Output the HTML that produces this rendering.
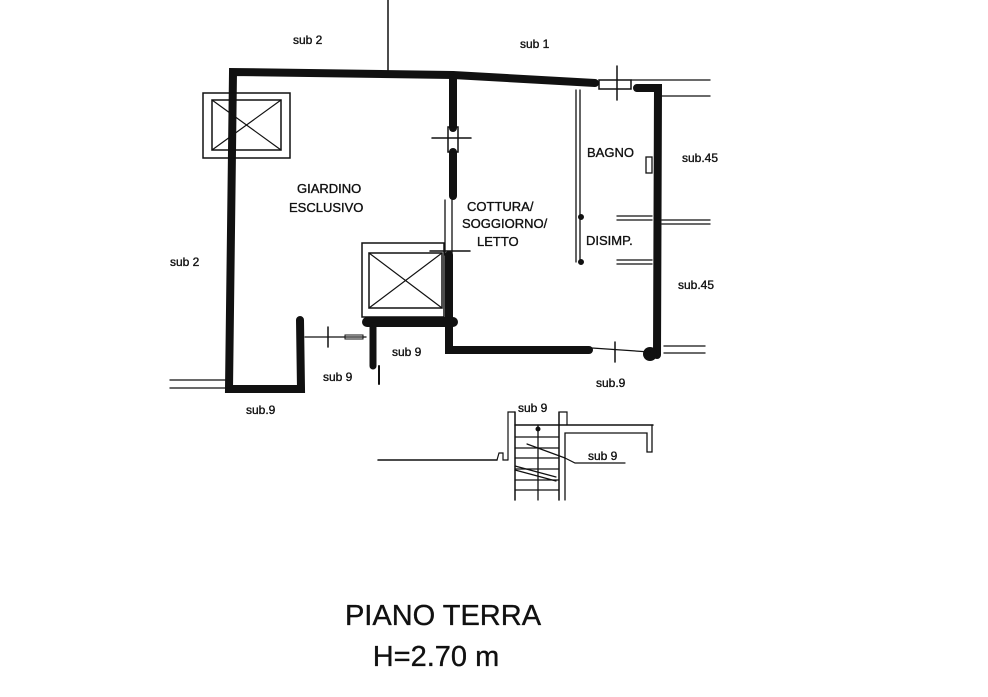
<!DOCTYPE html>
<html><head><meta charset="utf-8"><style>
html,body{margin:0;padding:0;background:#fff;}
svg{display:block}
text{font-family:"Liberation Sans",sans-serif;fill:#111}
.l{stroke:#111;stroke-width:0.35}
</style></head><body>
<svg width="988" height="697" viewBox="0 0 988 697" xmlns="http://www.w3.org/2000/svg">
<g stroke="#111" fill="none" stroke-linecap="round">
<line x1="388" y1="0" x2="388" y2="72" stroke-width="1.5"/>
<polyline points="300,320 301,389 229,389 233,72 453,75" stroke-width="8"/>
<polyline points="453,75 595,83" stroke-width="8"/>
<polyline points="453,78 453,128" stroke-width="8"/>
<polyline points="453,152 453,196" stroke-width="8"/>
<polyline points="449,255 449,350 589,350" stroke-width="8"/>
<polyline points="637,88 658,88 657,355" stroke-width="8"/>
<circle cx="650" cy="354" r="7" fill="#111" stroke="none"/>
<polyline points="367,322 453,322" stroke-width="10"/>
<polyline points="373,326 373,366" stroke-width="7"/>
<line x1="379" y1="366" x2="379" y2="384" stroke-width="2"/>
<rect x="448" y="127" width="10" height="25" stroke-width="1.5"/>
<line x1="432" y1="138" x2="471" y2="138" stroke-width="1.5"/>
<line x1="445" y1="200" x2="445" y2="255" stroke-width="1.3"/>
<line x1="452" y1="200" x2="452" y2="255" stroke-width="1.3"/>
<line x1="430" y1="251" x2="470" y2="251" stroke-width="1.5"/>
<rect x="599" y="80" width="32" height="9" stroke-width="1.5"/>
<line x1="617" y1="66" x2="617" y2="100" stroke-width="1.5"/>
<line x1="631" y1="80" x2="710" y2="80" stroke-width="1.3"/>
<line x1="662" y1="96" x2="710" y2="96" stroke-width="1.3"/>
<line x1="576" y1="90" x2="576" y2="262" stroke-width="1.3"/>
<line x1="580" y1="90" x2="580" y2="262" stroke-width="1.3"/>
<circle cx="581" cy="217" r="2.5" fill="#111"/>
<circle cx="581" cy="262" r="2.5" fill="#111"/>
<rect x="646" y="157" width="6" height="16" stroke-width="1.3"/>
<line x1="617" y1="216" x2="652" y2="216" stroke-width="1.3"/>
<line x1="617" y1="220" x2="652" y2="220" stroke-width="1.3"/>
<line x1="617" y1="260" x2="652" y2="260" stroke-width="1.3"/>
<line x1="617" y1="264" x2="652" y2="264" stroke-width="1.3"/>
<line x1="662" y1="220" x2="710" y2="220" stroke-width="1.3"/>
<line x1="662" y1="224" x2="710" y2="224" stroke-width="1.3"/>
<line x1="664" y1="346" x2="705" y2="346" stroke-width="1.3"/>
<line x1="664" y1="353" x2="705" y2="353" stroke-width="1.3"/>
<line x1="592" y1="348" x2="650" y2="352" stroke-width="1.3"/>
<line x1="615" y1="342" x2="615" y2="362" stroke-width="1.5"/>
<line x1="305" y1="337" x2="366" y2="337" stroke-width="1.3"/>
<rect x="345" y="335" width="18" height="4" stroke-width="1"/>
<line x1="328" y1="327" x2="328" y2="347" stroke-width="1.5"/>
<line x1="170" y1="380" x2="229" y2="380" stroke-width="1.3"/>
<line x1="170" y1="388" x2="229" y2="388" stroke-width="1.3"/>
<rect x="203" y="93" width="87" height="65" stroke-width="1.5"/>
<rect x="212" y="100" width="69" height="50" stroke-width="1.5"/>
<line x1="212" y1="100" x2="281" y2="150" stroke-width="1.2"/>
<line x1="281" y1="100" x2="212" y2="150" stroke-width="1.2"/>
<rect x="362" y="243" width="82" height="74" stroke-width="1.5"/>
<rect x="369" y="253" width="73" height="55" stroke-width="1.5"/>
<line x1="369" y1="253" x2="442" y2="308" stroke-width="1.2"/>
<line x1="442" y1="253" x2="369" y2="308" stroke-width="1.2"/>
<line x1="378" y1="460" x2="497" y2="460" stroke-width="1.5"/>
<polyline points="497,460 499,453 503,453 503,460 508,460" stroke-width="1.2"/>
<polyline points="508,460 508,412 515,412" stroke-width="1.2"/>
<line x1="515" y1="412" x2="515" y2="500" stroke-width="1.5"/>
<line x1="559" y1="412" x2="559" y2="500" stroke-width="1.5"/>
<line x1="538" y1="425" x2="538" y2="500" stroke-width="1.3"/>
<polyline points="560,412 567,412 567,425" stroke-width="1.2"/>
<line x1="515" y1="425" x2="653" y2="425" stroke-width="1.5"/>
<polyline points="565,500 565,433 647,433 647,452 652,452 652,425" stroke-width="1.3"/>
<g stroke-width="1.2">
<line x1="515" y1="437" x2="559" y2="437"/><line x1="515" y1="448" x2="559" y2="448"/>
<line x1="515" y1="458" x2="559" y2="458"/><line x1="515" y1="469" x2="559" y2="469"/>
<line x1="515" y1="480" x2="559" y2="480"/><line x1="515" y1="490" x2="559" y2="490"/>
<line x1="527" y1="444" x2="565" y2="458"/>
<line x1="515" y1="466" x2="556" y2="477"/><line x1="515" y1="470" x2="556" y2="481"/>
<polyline points="565,458 575,463 625,463"/>
</g>
<circle cx="538" cy="429" r="2" fill="#111"/>
</g>
<g font-size="12" class="l">
<text x="293" y="44">sub 2</text>
<text x="520" y="48">sub 1</text>
<text x="587" y="157" font-size="13">BAGNO</text>
<text x="682" y="162">sub.45</text>
<text x="297" y="193" font-size="13">GIARDINO</text>
<text x="289" y="212" font-size="13">ESCLUSIVO</text>
<text x="467" y="211" font-size="13">COTTURA/</text>
<text x="462" y="228" font-size="13">SOGGIORNO/</text>
<text x="477" y="246" font-size="13">LETTO</text>
<text x="586" y="245" font-size="13">DISIMP.</text>
<text x="170" y="266">sub 2</text>
<text x="678" y="289">sub.45</text>
<text x="392" y="356">sub 9</text>
<text x="323" y="381">sub 9</text>
<text x="596" y="387">sub.9</text>
<text x="246" y="414">sub.9</text>
<text x="518" y="412">sub 9</text>
<text x="588" y="460">sub 9</text>
</g>
<text x="443" y="625" font-size="29" text-anchor="middle" class="l">PIANO TERRA</text>
<text x="436" y="666" font-size="29" text-anchor="middle" class="l">H=2.70 m</text>
</svg>
</body></html>
